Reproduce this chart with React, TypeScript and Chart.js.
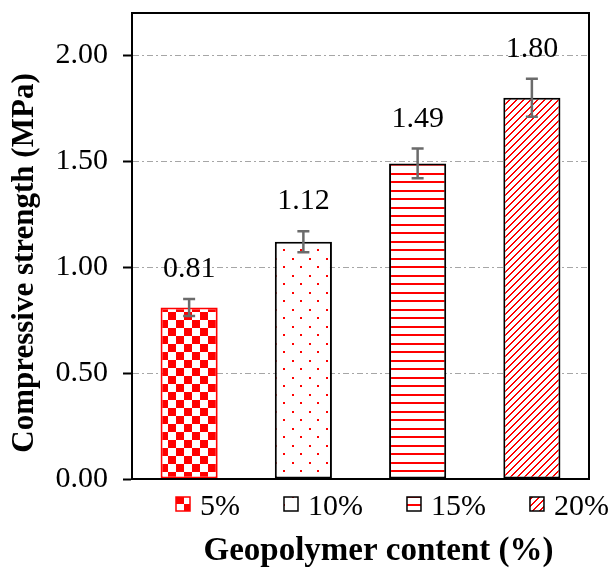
import React, { useEffect, useRef } from "react";
import { Chart, registerables } from "chart.js";

Chart.register(...registerables);

const categories = ["5%", "10%", "15%", "20%"];
const strengthValues = [0.81, 1.12, 1.49, 1.8];
const errorValues = [0.04, 0.05, 0.07, 0.09];
const yTickValues = [0, 0.5, 1.0, 1.5, 2.0];
const yMin = 0;
const yMax = 2.2;
const xTitle = "Geopolymer content (%)";
const yTitle = "Compressive strength (MPa)";

const FONT = '"Liberation Serif", "Times New Roman", Times, serif';
const RED = "#ff0000";

function makeTile(w: number, h: number, draw: (g: CanvasRenderingContext2D) => void) {
  const c = document.createElement("canvas");
  c.width = w;
  c.height = h;
  const g = c.getContext("2d")!;
  g.fillStyle = "#ffffff";
  g.fillRect(0, 0, w, h);
  draw(g);
  return c;
}

function makePatterns(ctx: CanvasRenderingContext2D) {
  const checker = makeTile(16, 16, (g) => {
    g.fillStyle = RED;
    g.fillRect(0, 0, 8, 8);
    g.fillRect(8, 8, 8, 8);
  });
  const dots = makeTile(17, 17, (g) => {
    g.fillStyle = RED;
    g.fillRect(3, 3, 2, 2);
    g.fillRect(11, 11, 2, 2);
  });
  const hlines = makeTile(8, 17, (g) => {
    g.fillStyle = RED;
    g.fillRect(0, 3, 8, 2);
    g.fillRect(0, 11, 8, 2);
  });
  const diag = makeTile(7, 7, (g) => {
    g.fillStyle = RED;
    for (let i = 0; i < 7; i++) {
      g.fillRect(i, 6 - i, 1, 1);
      g.fillRect((i + 1) % 7, 6 - i, 1, 1);
    }
  });
  return [checker, dots, hlines, diag].map((t) => ctx.createPattern(t, "repeat")!);
}

export default function App() {
  const ref = useRef<HTMLCanvasElement | null>(null);

  useEffect(() => {
    document.body.style.margin = "0";
    const canvas = ref.current!;
    const ctx0 = canvas.getContext("2d")!;
    const patterns = makePatterns(ctx0);
    const borderColors = [RED, "#000000", "#000000", "#000000"];

    const overlay = {
      id: "overlay",
      afterDatasetsDraw(chart: any) {
        const { ctx, chartArea: a, scales } = chart;
        const y = scales.y;
        const meta = chart.getDatasetMeta(0);
        ctx.save();
        // error bars and value labels
        meta.data.forEach((bar: any, i: number) => {
          const x = bar.x;
          const hi = y.getPixelForValue(strengthValues[i] + errorValues[i]);
          const lo = y.getPixelForValue(strengthValues[i] - errorValues[i]);
          ctx.strokeStyle = "#6b6b6b";
          ctx.lineWidth = 2.5;
          ctx.beginPath();
          ctx.moveTo(x, hi);
          ctx.lineTo(x, lo);
          ctx.moveTo(x - 6, hi);
          ctx.lineTo(x + 6, hi);
          ctx.moveTo(x - 6, lo);
          ctx.lineTo(x + 6, lo);
          ctx.stroke();
          ctx.fillStyle = "#000";
          ctx.font = `30px ${FONT}`;
          ctx.textAlign = "center";
          ctx.textBaseline = "alphabetic";
          ctx.fillText(strengthValues[i].toFixed(2), x, hi - 22);
        });
        // frame
        ctx.strokeStyle = "#000";
        ctx.lineWidth = 2;
        ctx.strokeRect(a.left, a.top, a.right - a.left, a.bottom - a.top);

        // legend
        ctx.font = `30px ${FONT}`;
        ctx.textAlign = "left";
        ctx.textBaseline = "alphabetic";
        let lx = a.left + 44;
        const baseY = a.bottom + 36;
        categories.forEach((c, i) => {
          ctx.fillStyle = patterns[i];
          ctx.fillRect(lx, baseY - 18, 14, 14);
          ctx.strokeStyle = borderColors[i];
          ctx.lineWidth = 1.5;
          ctx.strokeRect(lx, baseY - 18, 14, 14);
          ctx.fillStyle = "#000";
          ctx.fillText(c, lx + 24, baseY);
          lx += 24 + ctx.measureText(c).width + 44;
        });

        // axis titles
        ctx.textAlign = "center";
        ctx.fillStyle = "#000";
        ctx.font = `bold 33px ${FONT}`;
        ctx.fillText(xTitle, (a.left + a.right) / 2 + 18, a.bottom + 81);
        ctx.font = `bold 31px ${FONT}`;
        ctx.save();
        ctx.translate(33, (a.top + a.bottom) / 2 + 17);
        ctx.rotate(-Math.PI / 2);
        ctx.fillText(yTitle, 0, 0);
        ctx.restore();
        ctx.restore();
      },
    };

    const chart = new Chart(canvas, {
      type: "bar",
      data: {
        labels: categories,
        datasets: [
          {
            data: strengthValues,
            backgroundColor: patterns as any,
            borderColor: borderColors,
            borderWidth: 2,
            borderSkipped: false,
            barPercentage: 0.5,
            categoryPercentage: 1,
          },
        ],
      },
      options: {
        responsive: false,
        animation: false,
        layout: { padding: { top: 13, right: 23, left: 0, bottom: 0 } },
        plugins: {
          legend: { display: false },
          tooltip: { enabled: false },
          title: { display: false },
        },
        scales: {
          x: {
            grid: { display: false },
            ticks: { display: false },
            border: { color: "#000", width: 2 },
            afterFit: (s: any) => {
              s.height = 90;
              s.paddingLeft = 0;
              s.paddingRight = 0;
            },
          },
          y: {
            min: yMin,
            max: yMax,
            afterBuildTicks: (s: any) => {
              s.ticks = yTickValues.map((v) => ({ value: v }));
            },
            ticks: {
              font: { family: FONT, size: 30 },
              color: "#000",
              padding: 15,
              callback: (v: any) => Number(v).toFixed(2),
            },
            grid: {
              color: "#a6a6a6",
              lineWidth: 1,
              tickColor: "#000",
              tickWidth: 2,
              tickLength: 9,
            },
            border: { color: "#000", width: 2, dash: [6, 3, 2, 3] },
            afterFit: (s: any) => {
              s.width = 132;
              s.paddingTop = 0;
              s.paddingBottom = 0;
            },
          },
        },
      },
      plugins: [overlay],
    } as any);

    return () => chart.destroy();
  }, []);

  return (
    <div style={{ width: 612, height: 569 }}>
      <canvas ref={ref} width={612} height={569} style={{ display: "block" }} />
    </div>
  );
}
